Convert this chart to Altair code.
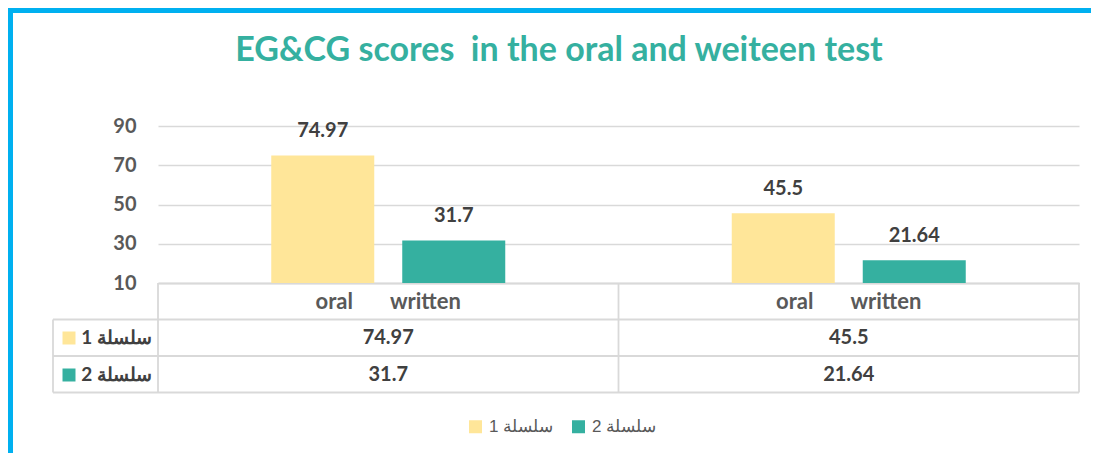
import altair as alt
import pandas as pd

# ---------------- data ----------------
title_text = "EG&CG scores  in the oral and weiteen test"
groups = [1, 2]
group_labels = ["oral" + "\u00a0" * 7 + "written", "oral" + "\u00a0" * 7 + "written"]
series = ["سلسلة 1", "سلسلة 2"]
values_s1 = [74.97, 45.5]
values_s2 = [31.7, 21.64]
colors = ["#FFE699", "#35B0A0"]
y_ticks = [10, 30, 50, 70, 90]

rows = []
for i, g in enumerate(groups):
    rows.append({"group": g, "series": series[0], "value": values_s1[i]})
    rows.append({"group": g, "series": series[1], "value": values_s2[i]})
df = pd.DataFrame(rows)
series_df = pd.DataFrame({"series": series})

# ---------------- style ----------------
W, H = 921, 157
GRID = "#D9D9D9"
DARK = "#404040"
GRAY = "#595959"
FONT = "Lato"
TEAL = "#35B0A0"
BLUE = "#00B0F0"

label_expr = "[" + ",".join("'" + s + "'" for s in group_labels) + "][datum.value - 1]"

x_enc = alt.X(
    "group:O",
    scale=alt.Scale(paddingInner=0, paddingOuter=0),
    axis=alt.Axis(
        title=None, labelExpr=label_expr, labelFont=FONT, labelFontSize=22,
        labelFontWeight="bold", labelColor=GRAY, labelPadding=18,
        labelBaseline="middle", labelAngle=0, ticks=False, tickSize=0,
        domainColor=GRID, domainWidth=1.8, grid=False, labelOverlap=False,
    ),
)
xoff = alt.XOffset("series:N", sort=series,
                   scale=alt.Scale(paddingInner=0.2137, paddingOuter=0.8645))
y_scale = alt.Scale(domain=[10, 90], nice=False, zero=False)
y_enc = alt.Y(
    "value:Q", scale=y_scale,
    axis=alt.Axis(values=y_ticks, title=None, labelFont=FONT, labelFontSize=20,
                  labelFontWeight="bold", labelColor=GRAY, labelPadding=22,
                  ticks=False, domain=False, grid=True, gridColor=GRID, gridWidth=1.5),
)
row_y = alt.Y("series:N", sort=series,
              scale=alt.Scale(type="point", domain=series, range=[212, 249], padding=0),
              axis=None)

one = alt.Data(values=[{"k": 0}])

# frame of the chart (top and left edges are visible in the picture)
border_top = alt.Chart(one).mark_rule(color=BLUE, strokeWidth=5).encode(
    x=alt.value(-150), x2=alt.value(935), y=alt.value(-115.5))
border_left = alt.Chart(one).mark_rule(color=BLUE, strokeWidth=5).encode(
    x=alt.value(-147.5), y=alt.value(-118), y2=alt.value(330))

title = alt.Chart(one).mark_text(
    align="center", baseline="alphabetic", font=FONT, fontSize=34,
    fontWeight="bold", color=TEAL
).encode(x=alt.value(401), y=alt.value(-65),
         text=alt.value(title_text.replace("  ", " \u00a0")))

bars = alt.Chart(df).mark_bar().encode(
    x=x_enc, xOffset=xoff, y=y_enc, y2=alt.datum(10),
    color=alt.Color(
        "series:N", sort=series, scale=alt.Scale(domain=series, range=colors),
        legend=alt.Legend(
            title=None, orient="none", legendX=309, legendY=292,
            direction="horizontal", symbolType="square", symbolSize=169,
            symbolStrokeWidth=0, symbolOpacity=1, labelFont="Liberation Sans",
            labelFontSize=17, labelColor=GRAY, labelOffset=5, columnPadding=16,
            padding=0,
        ),
    ),
)

bar_labels = alt.Chart(df).mark_text(
    dy=-18.5, baseline="alphabetic", font=FONT, fontSize=20, fontWeight="bold", color=DARK
).encode(x=x_enc, xOffset=xoff,
         y=alt.Y("value:Q", scale=y_scale, axis=None), text=alt.Text("value:Q"))

table_vals = alt.Chart(df).mark_text(
    baseline="middle", font=FONT, fontSize=20, fontWeight="bold", color=DARK
).encode(x=x_enc, y=row_y, text=alt.Text("value:Q"))

row_keys = alt.Chart(series_df).mark_point(
    shape="square", filled=True, size=169, opacity=1, strokeWidth=0
).encode(x=alt.value(-89), y=row_y,
         color=alt.Color("series:N", sort=series, scale=alt.Scale(domain=series, range=colors)))

row_names = alt.Chart(series_df).mark_text(
    align="right", baseline="middle", font=FONT, fontSize=19, fontWeight="bold", color=DARK
).encode(x=alt.value(-6), y=row_y, text="series:N")

rules = []
for yy in [193.5, 230, 266.5]:
    rules.append(alt.Chart(one).mark_rule(color=GRID, strokeWidth=1.8).encode(
        x=alt.value(-105), x2=alt.value(921), y=alt.value(yy)))
for xx, y1, y2 in [(0, 157, 266.5), (460.5, 157, 266.5), (921, 157, 266.5), (-105, 193.5, 266.5)]:
    rules.append(alt.Chart(one).mark_rule(color=GRID, strokeWidth=1.8).encode(
        x=alt.value(xx), y=alt.value(y1), y2=alt.value(y2)))

chart = alt.layer(
    border_top, border_left, *rules, bars, bar_labels, table_vals, row_keys, row_names, title
).resolve_scale(y="independent").properties(
    width=W, height=H,
    autosize=alt.AutoSizeParams(type="none"),
    padding={"left": 150, "top": 118, "right": 12, "bottom": 170},
    background="white",
).configure_view(strokeWidth=0)

chart.save("out.html", embed_options={"renderer": "svg", "actions": False})
